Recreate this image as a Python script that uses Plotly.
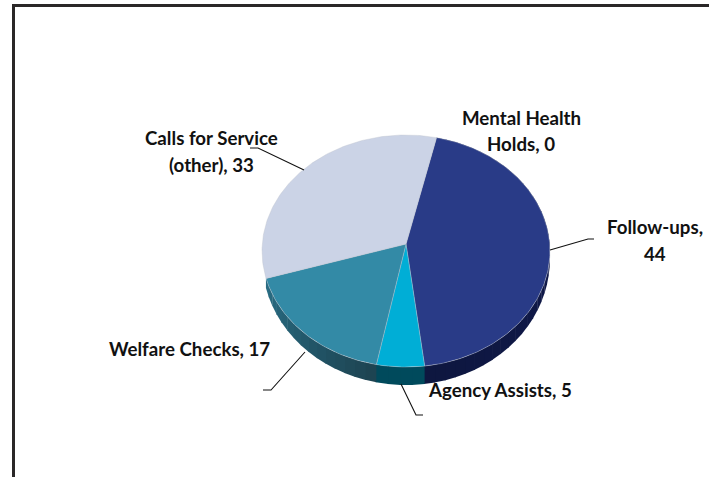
import numpy as np
import plotly.graph_objects as go

# Data
categories = ["Mental Health Holds", "Follow-ups", "Agency Assists", "Welfare Checks", "Calls for Service (other)"]
values = [0, 44, 5, 17, 33]
top_colors = ["#5b6fb5", "#293b87", "#00aed6", "#338aa6", "#cbd3e6"]
side_colors_a = ["#1a2560", "#141d55", "#004a5c", "#1d4351", None]
side_colors_b = ["#1a2560", "#0e1740", "#004a5c", "#2a6e85", None]

# Label lines and centre positions (pixels)
label_lines = [
    [("Mental Health", 521, 118), ("Holds, 0", 521, 144)],
    [("Follow-ups,", 655, 227), ("44", 655, 254)],
    [("Agency Assists, 5", 500, 390)],
    [("Welfare Checks, 17", 189, 349)],
    [("Calls for Service", 211, 138), ("(other), 33", 211, 165)],
]
leaders = [
    ([550, 588, 594], [250, 239, 239]),
    ([401, 416, 423], [384, 415, 415]),
    ([305, 271, 263], [352, 390, 390]),
    ([304, 258, 250], [170, 148, 148]),
]

# Pie geometry (pixels)
CX, CY = 406, 244
A, B, K = 143.7, 115.6, 0.0605
DEPTH = 18
START = 13.0


def project(theta):
    """Perspective projection of a point on the pie rim, theta clockwise from top."""
    t = np.radians(theta)
    u, v = np.sin(t), np.cos(t)
    d = 1 + K * v
    return CX + A * u / d, CY - B * v / d


def depth(theta):
    """Side wall height seen at rim angle theta: tallest at the front of the pie."""
    return DEPTH * (0.4 + 0.6 * np.maximum(-np.cos(np.radians(theta)), -0.2))


fig = go.Figure()
total = sum(values)
spans = []
cur = START
for v in values:
    a = v / total * 360
    spans.append((cur, cur + a))
    cur += a

# Extruded sides first
for (t0, t1), ca, cb in zip(spans, side_colors_a, side_colors_b):
    if t1 <= t0 or ca is None:
        continue
    n = max(2, int((t1 - t0) / 4))
    edges = np.linspace(t0, t1, n + 1)
    ca_rgb = np.array([int(ca[i:i + 2], 16) for i in (1, 3, 5)])
    cb_rgb = np.array([int(cb[i:i + 2], 16) for i in (1, 3, 5)])
    for i in range(n):
        f = (i + 0.5) / n
        c = (ca_rgb * (1 - f) + cb_rgb * f).astype(int)
        ts = np.linspace(edges[i], edges[i + 1] + 0.3, 5)
        x, y = project(ts)
        fig.add_trace(go.Scatter(
            x=np.r_[x, x[::-1]], y=np.r_[y, (y + depth(ts))[::-1]],
            mode="lines", fill="toself", line=dict(width=0),
            fillcolor=f"rgb({c[0]},{c[1]},{c[2]})", hoverinfo="skip", showlegend=False))

# Top faces
for (t0, t1), c, name, val in zip(spans, top_colors, categories, values):
    if t1 <= t0:
        continue
    ts = np.linspace(t0, t1, max(4, int(t1 - t0)))
    x, y = project(ts)
    fig.add_trace(go.Scatter(
        x=np.r_[CX, x, CX], y=np.r_[CY, y, CY],
        mode="lines", fill="toself", line=dict(width=0.7, color="rgba(190,195,205,0.55)"),
        fillcolor=c, name=name, text=f"{name}, {val}", hoverinfo="text", showlegend=False))

# Leader lines
for lx, ly in leaders:
    fig.add_trace(go.Scatter(x=lx, y=ly, mode="lines", line=dict(color="#111111", width=1.1),
                             hoverinfo="skip", showlegend=False))

annotations = []
for lines in label_lines:
    for text, x, y in lines:
        annotations.append(dict(x=x, y=y, xref="x", yref="y", text=f"<b>{text}</b>", showarrow=False,
                                xanchor="center", yanchor="middle",
                                font=dict(family="Lato", size=18.7, color="#111111")))

fig.update_layout(
    width=709, height=477, margin=dict(l=0, r=0, t=0, b=0),
    paper_bgcolor="white", plot_bgcolor="white",
    xaxis=dict(range=[0, 709], visible=False, fixedrange=True),
    yaxis=dict(range=[477, 0], visible=False, fixedrange=True),
    annotations=annotations,
    shapes=[
        dict(type="line", xref="x", yref="y", x0=13.5, y0=5.5, x1=709, y1=5.5, line=dict(color="#2a2728", width=3)),
        dict(type="line", xref="x", yref="y", x0=13.5, y0=4, x1=13.5, y1=477, line=dict(color="#2a2728", width=3)),
    ],
)
fig.write_html("out.html", config={"displayModeBar": False},
               post_script="document.body.style.margin='0';document.documentElement.style.overflow='hidden';")
